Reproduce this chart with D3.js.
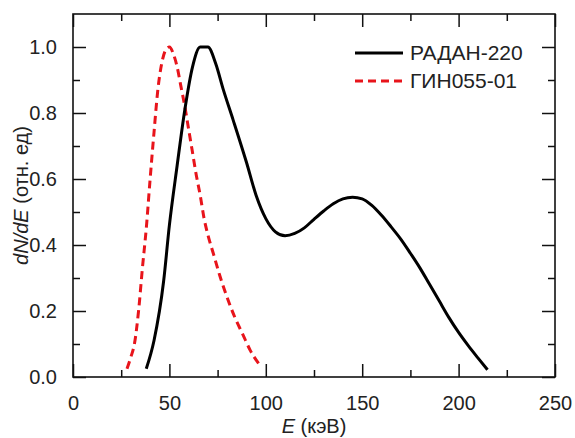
<!DOCTYPE html>
<html>
<head>
<meta charset="utf-8">
<script src="https://cdn.jsdelivr.net/npm/d3@7/dist/d3.min.js"></script>
<style>
  html, body { margin: 0; padding: 0; background: #fff; }
  svg text { font-family: "Liberation Sans", Arial, sans-serif; fill: #222; }
</style>
</head>
<body>
<div id="chart"></div>
<script>
// Energy spectra, normalised
const radanE = [38, 42, 47, 50, 54, 58, 62, 66, 70, 74, 78, 83, 90, 95, 100, 105, 110, 115, 120, 125, 130, 135, 140, 145, 150, 155, 160, 165, 170, 175, 180, 185, 190, 195, 200, 205, 210, 215]
const radanN = [0.025, 0.11, 0.29, 0.46, 0.64, 0.81, 0.94, 1.0, 1.0, 0.95, 0.87, 0.78, 0.65, 0.55, 0.48, 0.44, 0.428, 0.435, 0.452, 0.478, 0.503, 0.525, 0.54, 0.545, 0.54, 0.52, 0.49, 0.455, 0.418, 0.375, 0.33, 0.28, 0.23, 0.18, 0.135, 0.095, 0.058, 0.022]
const ginE = [28, 30, 32, 34, 36, 38, 40, 42, 44, 46, 48, 50, 52, 54, 56, 58, 60, 62, 64, 66, 68, 70, 73, 76, 80, 84, 88, 92, 97]
const ginN = [0.025, 0.06, 0.105, 0.2, 0.33, 0.45, 0.6, 0.74, 0.87, 0.95, 0.99, 1.0, 0.98, 0.94, 0.88, 0.82, 0.75, 0.68, 0.61, 0.55, 0.48, 0.43, 0.37, 0.31, 0.24, 0.18, 0.13, 0.08, 0.035]

const seriesNames = ["РАДАН-220", "ГИН055-01"]
const xTicks = [0, 50, 100, 150, 200, 250]
const yTicks = [0, 0.2, 0.4, 0.6, 0.8, 1.0]

const W = 575, H = 438
const margin = { top: 14, right: 20, bottom: 61, left: 73 }
const width = W - margin.left - margin.right
const height = H - margin.top - margin.bottom

const svg = d3.select("#chart").append("svg")
  .attr("width", W)
  .attr("height", H)

const g = svg.append("g").attr("transform", `translate(${margin.left},${margin.top})`)

const x = d3.scaleLinear().domain([0, 250]).range([0, width])
const y = d3.scaleLinear().domain([0, 1.1]).range([height, 0])

const minorX = d3.range(25, 250, 50)
const minorY = d3.range(0.1, 1.1, 0.2)

// Tick marks drawn inward on all four sides
const tickStyle = sel => sel.select(".domain").remove()

g.append("g")
  .attr("transform", `translate(0,${height})`)
  .call(d3.axisBottom(x).tickValues(xTicks).tickSizeInner(-13).tickPadding(19).tickFormat(d3.format("d")))
  .call(tickStyle)
g.append("g")
  .attr("transform", `translate(0,${height})`)
  .call(d3.axisBottom(x).tickValues(minorX).tickSizeInner(-7).tickFormat(""))
  .call(tickStyle)
g.append("g")
  .call(d3.axisTop(x).tickValues(xTicks).tickSizeInner(-13).tickFormat(""))
  .call(tickStyle)
g.append("g")
  .call(d3.axisTop(x).tickValues(minorX).tickSizeInner(-7).tickFormat(""))
  .call(tickStyle)

g.append("g")
  .call(d3.axisLeft(y).tickValues(yTicks).tickSizeInner(-13).tickPadding(16).tickFormat(d3.format(".1f")))
  .call(tickStyle)
g.append("g")
  .call(d3.axisLeft(y).tickValues(minorY).tickSizeInner(-7).tickFormat(""))
  .call(tickStyle)
g.append("g")
  .attr("transform", `translate(${width},0)`)
  .call(d3.axisRight(y).tickValues(yTicks).tickSizeInner(-13).tickFormat(""))
  .call(tickStyle)
g.append("g")
  .attr("transform", `translate(${width},0)`)
  .call(d3.axisRight(y).tickValues(minorY).tickSizeInner(-7).tickFormat(""))
  .call(tickStyle)

g.selectAll(".tick line").attr("stroke", "#111").attr("stroke-width", 1.5)
g.selectAll(".tick text").attr("font-size", "20px").attr("fill", "#222")

// Frame
g.append("rect")
  .attr("width", width)
  .attr("height", height)
  .attr("fill", "none")
  .attr("stroke", "#111")
  .attr("stroke-width", 1.6)

const line = d3.line()
  .x(d => x(d[0]))
  .y(d => y(d[1]))
  .curve(d3.curveMonotoneX)

g.append("path")
  .datum(d3.zip(ginE, ginN))
  .attr("d", line)
  .attr("fill", "none")
  .attr("stroke", "#e8141b")
  .attr("stroke-width", 3)
  .attr("stroke-dasharray", "8,5")

g.append("path")
  .datum(d3.zip(radanE, radanN))
  .attr("d", line)
  .attr("fill", "none")
  .attr("stroke", "#000")
  .attr("stroke-width", 3)

// Legend
const legend = g.append("g").attr("transform", `translate(${355 - margin.left},${53 - margin.top})`)
const legendStyles = [
  { stroke: "#000", dash: null },
  { stroke: "#e8141b", dash: "8,5" }
]
seriesNames.forEach((name, i) => {
  const row = legend.append("g").attr("transform", `translate(0,${i * 28})`)
  row.append("line")
    .attr("x1", 0).attr("x2", 48)
    .attr("stroke", legendStyles[i].stroke)
    .attr("stroke-width", 3)
    .attr("stroke-dasharray", legendStyles[i].dash)
  row.append("text")
    .attr("x", 55)
    .attr("y", 7)
    .attr("font-size", "21px")
    .text(name)
})

// Axis labels
const xl = svg.append("text")
  .attr("x", margin.left + width / 2)
  .attr("y", 433)
  .attr("text-anchor", "middle")
  .attr("font-size", "20px")
xl.append("tspan").attr("font-style", "italic").text("E")
xl.append("tspan").text(" (кэВ)")

const yl = svg.append("text")
  .attr("transform", `translate(28,${margin.top + height / 2}) rotate(-90)`)
  .attr("text-anchor", "middle")
  .attr("font-size", "20px")
yl.append("tspan").attr("font-style", "italic").text("dN/dE")
yl.append("tspan").text(" (отн. ед)")
</script>
</body>
</html>
